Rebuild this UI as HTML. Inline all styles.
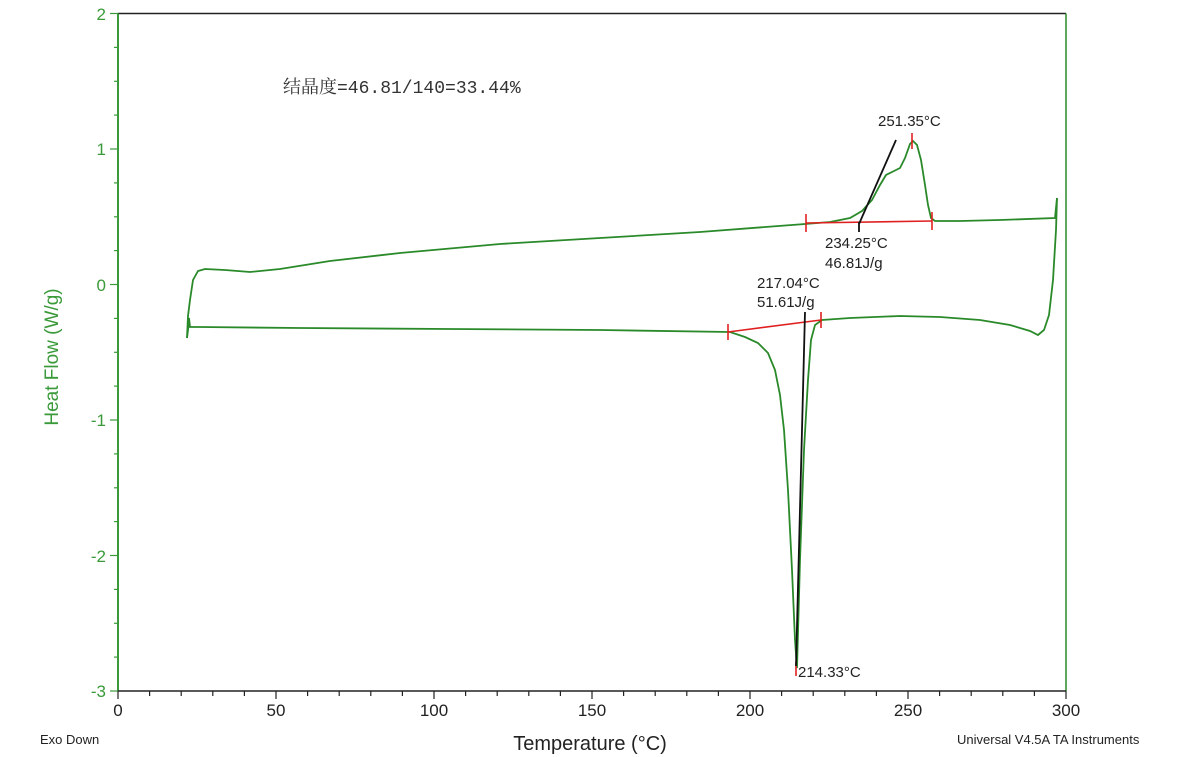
<!DOCTYPE html>
<html><head><meta charset="utf-8"><style>
body{margin:0;background:#fff;}
svg{display:block;font-family:"Liberation Sans",Arial,sans-serif;}
</style></head><body>
<svg width="1181" height="757" viewBox="0 0 1181 757">
<rect width="1181" height="757" fill="#fff"/>
<line x1="118" y1="13.5" x2="1066" y2="13.5" stroke="#222" stroke-width="1.5"/>
<line x1="1066" y1="13.5" x2="1066" y2="691" stroke="#2a8a2a" stroke-width="1.5"/>
<line x1="118" y1="13.5" x2="118" y2="691" stroke="#3a9a3a" stroke-width="2"/>
<line x1="118" y1="691" x2="1066" y2="691" stroke="#222" stroke-width="1.5"/>
<g stroke="#3a9a3a" stroke-width="1.2">
<line x1="110" y1="13.5" x2="118" y2="13.5"/><line x1="110" y1="149" x2="118" y2="149"/><line x1="110" y1="284.5" x2="118" y2="284.5"/><line x1="110" y1="420" x2="118" y2="420"/><line x1="110" y1="555.5" x2="118" y2="555.5"/><line x1="110" y1="691" x2="118" y2="691"/>
<line x1="114" y1="47.4" x2="118" y2="47.4"/><line x1="114" y1="81.3" x2="118" y2="81.3"/><line x1="114" y1="115.1" x2="118" y2="115.1"/>
<line x1="114" y1="182.9" x2="118" y2="182.9"/><line x1="114" y1="216.8" x2="118" y2="216.8"/><line x1="114" y1="250.6" x2="118" y2="250.6"/>
<line x1="114" y1="318.4" x2="118" y2="318.4"/><line x1="114" y1="352.3" x2="118" y2="352.3"/><line x1="114" y1="386.1" x2="118" y2="386.1"/>
<line x1="114" y1="453.9" x2="118" y2="453.9"/><line x1="114" y1="487.8" x2="118" y2="487.8"/><line x1="114" y1="521.6" x2="118" y2="521.6"/>
<line x1="114" y1="589.4" x2="118" y2="589.4"/><line x1="114" y1="623.3" x2="118" y2="623.3"/><line x1="114" y1="657.1" x2="118" y2="657.1"/>
</g>
<g stroke="#222" stroke-width="1.2">
<line x1="118" y1="691" x2="118" y2="699"/><line x1="149.6" y1="691" x2="149.6" y2="696"/><line x1="181.2" y1="691" x2="181.2" y2="696"/><line x1="212.8" y1="691" x2="212.8" y2="696"/><line x1="244.4" y1="691" x2="244.4" y2="696"/>
<line x1="276" y1="691" x2="276" y2="699"/><line x1="307.6" y1="691" x2="307.6" y2="696"/><line x1="339.2" y1="691" x2="339.2" y2="696"/><line x1="370.8" y1="691" x2="370.8" y2="696"/><line x1="402.4" y1="691" x2="402.4" y2="696"/>
<line x1="434" y1="691" x2="434" y2="699"/><line x1="465.6" y1="691" x2="465.6" y2="696"/><line x1="497.2" y1="691" x2="497.2" y2="696"/><line x1="528.8" y1="691" x2="528.8" y2="696"/><line x1="560.4" y1="691" x2="560.4" y2="696"/>
<line x1="592" y1="691" x2="592" y2="699"/><line x1="623.6" y1="691" x2="623.6" y2="696"/><line x1="655.2" y1="691" x2="655.2" y2="696"/><line x1="686.8" y1="691" x2="686.8" y2="696"/><line x1="718.4" y1="691" x2="718.4" y2="696"/>
<line x1="750" y1="691" x2="750" y2="699"/><line x1="781.6" y1="691" x2="781.6" y2="696"/><line x1="813.2" y1="691" x2="813.2" y2="696"/><line x1="844.8" y1="691" x2="844.8" y2="696"/><line x1="876.4" y1="691" x2="876.4" y2="696"/>
<line x1="908" y1="691" x2="908" y2="699"/><line x1="939.6" y1="691" x2="939.6" y2="696"/><line x1="971.2" y1="691" x2="971.2" y2="696"/><line x1="1002.8" y1="691" x2="1002.8" y2="696"/><line x1="1034.4" y1="691" x2="1034.4" y2="696"/>
<line x1="1066" y1="691" x2="1066" y2="699"/>
</g>
<g fill="#3a9a3a" font-size="17" text-anchor="end">
<text x="106" y="20">2</text><text x="106" y="155">1</text><text x="106" y="291">0</text><text x="106" y="426">-1</text><text x="106" y="562">-2</text><text x="106" y="697">-3</text>
</g>
<g fill="#222" font-size="17" text-anchor="middle">
<text x="118" y="716">0</text><text x="276" y="716">50</text><text x="434" y="716">100</text><text x="592" y="716">150</text><text x="750" y="716">200</text><text x="908" y="716">250</text><text x="1066" y="716">300</text>
</g>
<text transform="translate(58,357) rotate(-90)" fill="#3a9a3a" font-size="19" text-anchor="middle">Heat Flow (W/g)</text>
<text x="590" y="750" fill="#222" font-size="20" text-anchor="middle">Temperature (°C)</text>
<text x="40" y="744" fill="#222" font-size="13">Exo Down</text>
<text x="957" y="744" fill="#222" font-size="13">Universal V4.5A TA Instruments</text>
<text x="283" y="93" fill="#333" font-size="18" font-family="'Liberation Mono','Noto Serif CJK SC',monospace">结晶度=46.81/140=33.44%</text>
<g fill="none" stroke="#2a8a2a" stroke-width="1.8">
<path d="M187,338 L188,316 L190,300 L193,280 L198,271 L205,269 L225,270 L250,272 L280,269 L330,261 L400,253 L500,244 L600,238 L700,232 L805,224 L830,222 L850,218 L862,211 L872,200 L880,185 L886,175 L894,171 L900,168 L905,158 L910,144 L913,141 L917,145 L921,160 L925,185 L928,205 L931,218 L935,221 L960,221 L1000,220 L1055,218 L1057,198"/>
<path d="M1057,198 L1056,230 L1053,280 L1049,315 L1044,330 L1038,335 L1030,331 L1010,325 L980,320 L940,317 L900,316 L850,318 L822,320 L815,325 L811,340 L808,380 L804,450 L800,560 L797,668 L795,640 L792,570 L788,490 L784,430 L780,395 L775,370 L768,353 L758,343 L745,337 L730,332 L600,330 L450,329 L300,328 L200,327 L190,327 L189,318 L188,330 L187,338"/>
</g>
<g stroke="#e02020" stroke-width="1.6" fill="none">
<path d="M806,223 L932,221"/><line x1="806" y1="214" x2="806" y2="232"/><line x1="932" y1="212" x2="932" y2="230"/><line x1="912" y1="133" x2="912" y2="149"/>
<path d="M728,332 L821,320"/><line x1="728" y1="324" x2="728" y2="340"/><line x1="821" y1="312" x2="821" y2="328"/><line x1="796" y1="662" x2="796" y2="676"/>
</g>
<g stroke="#111" stroke-width="1.8" fill="none">
<path d="M859,224 L896,140"/><line x1="859" y1="222" x2="859" y2="232"/>
<path d="M796,666 L805,312"/>
</g>
<g fill="#222" font-size="15">
<text x="878" y="126">251.35°C</text>
<text x="825" y="248">234.25°C</text><text x="825" y="268">46.81J/g</text>
<text x="757" y="288">217.04°C</text><text x="757" y="307">51.61J/g</text>
<text x="798" y="677">214.33°C</text>
</g>
</svg>
</body></html>
